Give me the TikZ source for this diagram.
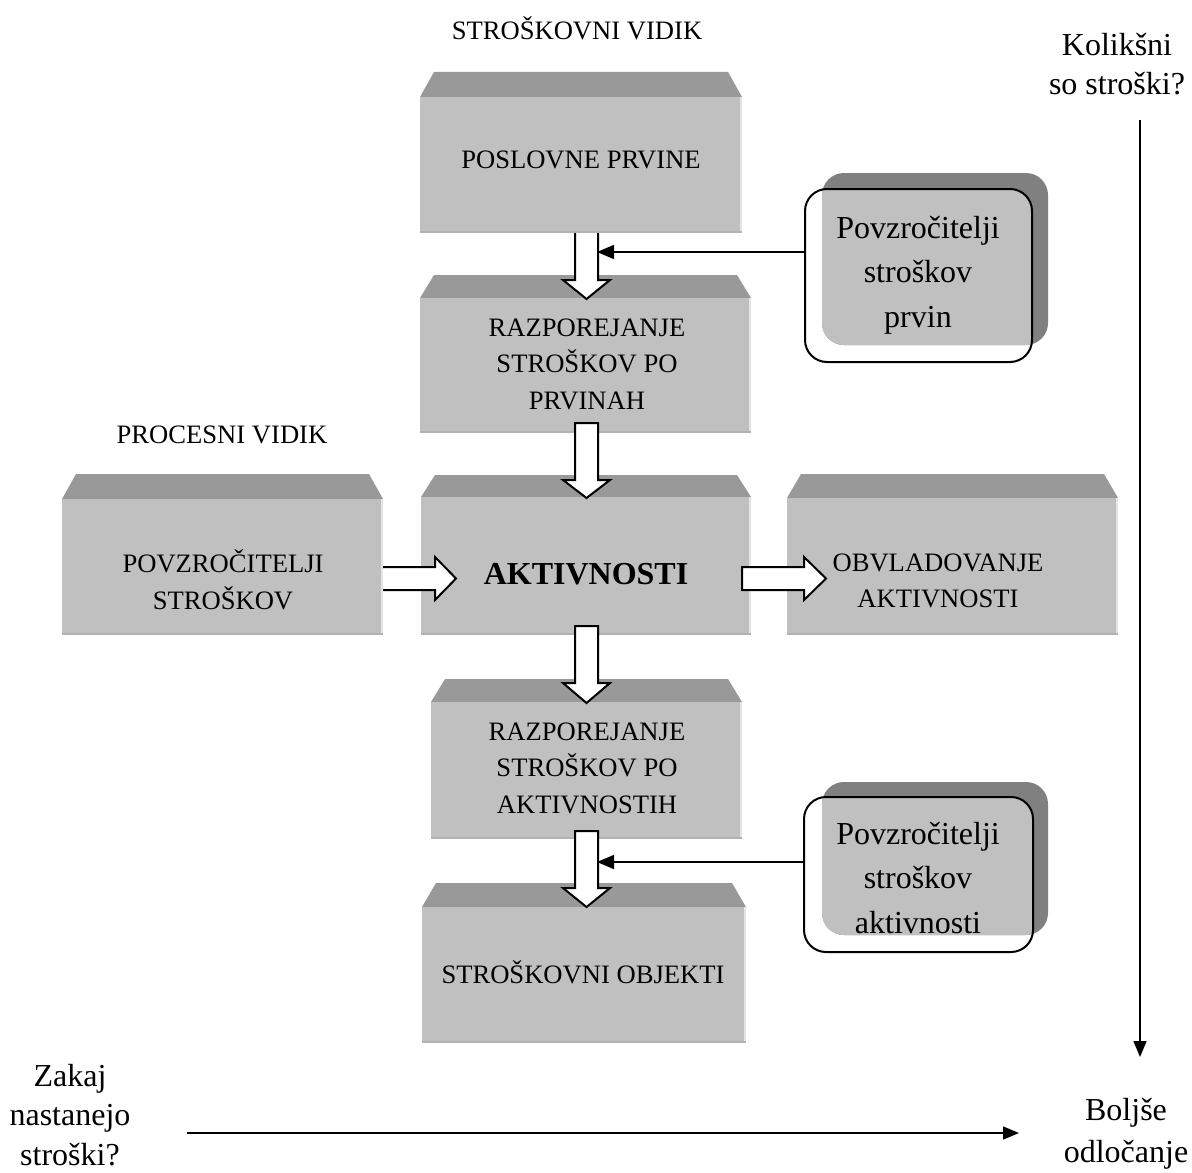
\documentclass[tikz,border=0pt]{standalone}
\usepackage{fontspec}
\setmainfont{Liberation Serif}
\usetikzlibrary{arrows.meta}

\definecolor{bevelgray}{RGB}{153,153,153}
\definecolor{facegray}{RGB}{192,192,192}
\definecolor{shadowgray}{RGB}{128,128,128}
\definecolor{edgelight}{RGB}{228,228,228}
\definecolor{edgedark}{RGB}{178,178,178}

\tikzset{
  caps/.style={font=\fontsize{13.3}{18.3}\selectfont, align=center, inner sep=0pt},
  capsbold/.style={font=\fontsize{16}{20}\selectfont\bfseries, align=center, inner sep=0pt},
  big/.style={font=\fontsize{16}{22}\selectfont, align=center, inner sep=0pt},
  blockarrow/.style={draw=black, fill=white, line width=1pt, line join=miter},
  thinarrow/.style={line width=0.75pt, -{Triangle[length=8.5pt,width=7pt]}},
  axisarrow/.style={line width=0.75pt, -{Triangle[length=8pt,width=6.5pt]}},
  drvbox/.style={draw=black, line width=1pt, rounded corners=11pt, inner sep=0pt},
}

% prism-like box: #1 name, #2 left, #3 top of bevel, #4 top of face, #5 right, #6 bottom
\newcommand\prismbox[6]{%
  \fill[bevelgray] (#2,#4) -- (#2+14,#3) -- (#5-14,#3) -- (#5,#4) -- cycle;
  \node[fill=facegray, inner sep=0pt, minimum width={(#5-#2)*0.5pt},
        minimum height={(#6-#4)*0.5pt}] (#1) at ({(#2+#5)/2},{(#4+#6)/2}) {};
  \draw[edgelight, line width=1pt] ([xshift=-0.5pt]#1.north east) -- ([xshift=-0.5pt]#1.south east);
  \draw[edgedark, line width=1pt] ([yshift=0.5pt]#1.south west) -- ([yshift=0.5pt]#1.south east);
}

% wide white arrow pointing down: #1 x centre, #2 top, #3 head base, #4 tip
\newcommand\blockdown[4]{%
  \draw[blockarrow] (#1-11.5,#2) -- (#1-11.5,#3) -- (#1-23.5,#3) -- (#1,#4)
    -- (#1+23.5,#3) -- (#1+11.5,#3) -- (#1+11.5,#2) -- cycle;
}
% wide white arrow pointing right: #1 y centre, #2 left, #3 head base, #4 tip
\newcommand\blockright[4]{%
  \draw[blockarrow] (#2,#1-11.5) -- (#3,#1-11.5) -- (#3,#1-21.5) -- (#4,#1)
    -- (#3,#1+21.5) -- (#3,#1+11.5) -- (#2,#1+11.5) -- cycle;
}

\begin{document}
\begin{tikzpicture}[x=0.5pt, y=-0.5pt]
\useasboundingbox (0,0) rectangle (1192,1172);

% main column and side boxes
\prismbox{boxB}{420}{275}{298}{751}{433}
\prismbox{boxC}{421}{475}{497}{751}{635}
\prismbox{boxE}{787}{474}{498}{1118}{635}
\prismbox{boxF}{431}{679}{702}{742}{839}
\prismbox{boxG}{422}{883}{907}{746}{1043}

% cost driver boxes with shadow
\fill[shadowgray, rounded corners=11pt] (822,173) rectangle (1048,345);
\begin{scope}
  \clip[rounded corners=11pt] (805,189) rectangle (1032,362);
  \fill[facegray, rounded corners=11pt] (822,173) rectangle (1048,345);
\end{scope}
\node[drvbox, minimum width=113.5pt, minimum height=86.5pt] (drv1) at (918.5,275.5) {};

\fill[shadowgray, rounded corners=11pt] (822,782) rectangle (1048,935);
\begin{scope}
  \clip[rounded corners=11pt] (804,797) rectangle (1033,952);
  \fill[facegray, rounded corners=11pt] (822,782) rectangle (1048,935);
\end{scope}
\node[drvbox, minimum width=114.5pt, minimum height=77.5pt] (drv2) at (918.5,874.5) {};

% flow arrows
\blockdown{586.5}{231}{280}{299}
\blockdown{586.5}{423}{480}{498}
\blockdown{586.5}{626}{683}{703}
\blockdown{586.5}{831}{888}{907}
\blockright{578.5}{380}{435}{456}
\blockright{578.5}{742}{804}{826}

\prismbox{boxA}{420}{72}{97}{742}{233}
\prismbox{boxD}{62}{474}{499}{383}{635}

% driver connectors
\coordinate (j1) at (597,252);
\coordinate (j2) at (597,862);
\draw[thinarrow] (j1 -| drv1.west) -- (j1);
\draw[thinarrow] (j2 -| drv2.west) -- (j2);

% labels
\node[caps] (tA) at (581,160) {POSLOVNE PRVINE};
\node[caps] (tB) at (587,364) {RAZPOREJANJE\\STROŠKOV PO\\PRVINAH};
\node[capsbold] (tC) at (586,574) {AKTIVNOSTI};
\node[caps] (tD) at (223,580) {POVZROČITELJI\\STROŠKOV};
\node[caps] (tE) at (938,581) {OBVLADOVANJE\\AKTIVNOSTI};
\node[caps] (tF) at (587,768) {RAZPOREJANJE\\STROŠKOV PO\\AKTIVNOSTIH};
\node[caps] (tG) at (583,972) {STROŠKOVNI OBJEKTI};

\node[big, font=\fontsize{16}{22.3}\selectfont] (d1) at (918,275) {Povzročitelji\\stroškov\\prvin};
\node[big, font=\fontsize{16}{22.3}\selectfont] (d2) at (918,878) {Povzročitelji\\stroškov\\aktivnosti};

\node[caps] (hCost) at (577,28) {STROŠKOVNI VIDIK};
\node[caps] (hProc) at (222,435) {PROCESNI VIDIK};

\node[big, font=\fontsize{16}{19.5}\selectfont] (qHow) at (1117,64) {Kolikšni\\so stroški?};
\node[big, font=\fontsize{16}{19.8}\selectfont] (qWhy) at (70,1115) {Zakaj\\nastanejo\\stroški?};
\node[big, font=\fontsize{16}{21}\selectfont] (qDec) at (1126,1134) {Boljše\\odločanje};

% axes
\coordinate (vStart) at (1140,120);
\coordinate (vEnd) at (1140,1057);
\coordinate (hStart) at (187,1133);
\coordinate (hEnd) at (1019,1133);
\draw[axisarrow] (vStart) -- (vEnd);
\draw[axisarrow] (hStart) -- (hEnd);
\end{tikzpicture}
\end{document}
